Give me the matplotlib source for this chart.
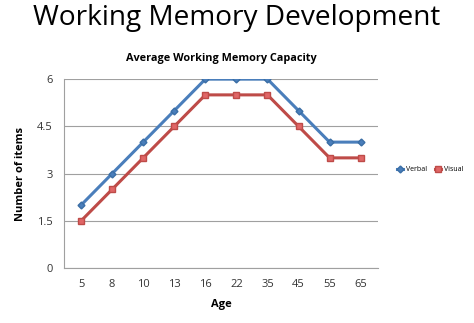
import numpy as np
import matplotlib.pyplot as plt

plt.rcParams['font.family'] = ['Open Sans', 'DejaVu Sans']

# Data
ages = ['5', '8', '10', '13', '16', '22', '35', '45', '55', '65']
verbal = [2, 3, 4, 5, 6, 6, 6, 5, 4, 4]
visual = [1.5, 2.5, 3.5, 4.5, 5.5, 5.5, 5.5, 4.5, 3.5, 3.5]
yticks = [0, 1.5, 3, 4.5, 6]

fig = plt.figure(figsize=(4.74, 3.23), dpi=100)
ax = fig.add_axes([0.135, 0.17, 0.662, 0.585])

x = np.arange(len(ages))
ax.plot(x, verbal, color='#4a7ebb', lw=2.2, marker='D', ms=3.5,
        markerfacecolor='#4a7ebb', markeredgecolor='#3a6ea5', label='Verbal')
ax.plot(x, visual, color='#be4b48', lw=2.2, marker='s', ms=4.5,
        markerfacecolor='#e06666', markeredgecolor='#be4b48', label='Visual')

ax.set_xlim(-0.55, len(ages) - 0.45)
ax.set_ylim(0, 6)
ax.set_xticks(x)
ax.set_xticklabels(ages)
ax.set_yticks(yticks)
ax.set_yticklabels(['0', '1.5', '3', '4.5', '6'])
ax.tick_params(axis='both', length=0, labelsize=8, colors='#333333', pad=8)
ax.yaxis.grid(True, color='#a0a0a0', lw=0.8)
ax.set_axisbelow(True)
for s in ['top', 'right']:
    ax.spines[s].set_visible(False)
for s in ['left', 'bottom']:
    ax.spines[s].set_color('#a0a0a0')

ax.set_xlabel('Age', fontsize=8, fontweight='bold', labelpad=6)
ax.set_ylabel('Number of items', fontsize=8, fontweight='bold', labelpad=8)
ax.set_title('Average Working Memory Capacity', fontsize=7.8, fontweight='bold', pad=13)

fig.text(0.5, 0.945, 'Working Memory Development', ha='center', va='center', fontsize=20.2)

ax.legend(loc='center left', bbox_to_anchor=(1.04, 0.52), frameon=False,
          fontsize=5, ncol=2, handlelength=0.9, columnspacing=1.2, handletextpad=0.4)

fig.savefig('out.png', dpi=100)
